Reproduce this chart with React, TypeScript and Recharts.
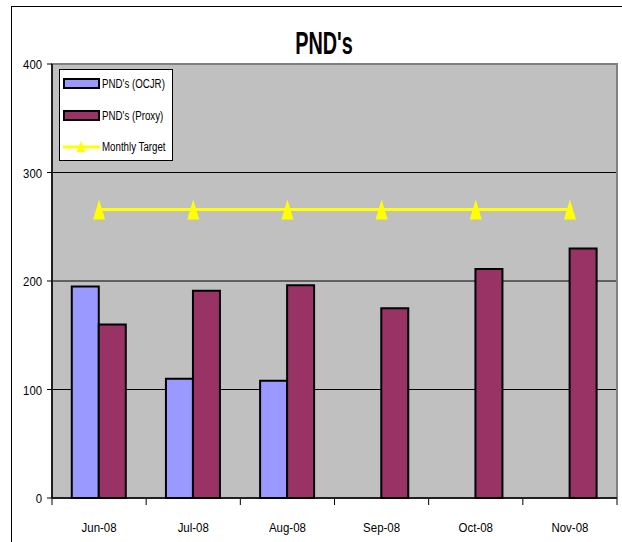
import { Bar, CartesianGrid, ComposedChart, Legend, Line, ReferenceArea, XAxis, YAxis } from "recharts";

const months = ["Jun-08", "Jul-08", "Aug-08", "Sep-08", "Oct-08", "Nov-08"];
const ocjr = [195, 110, 108, null, null, null];
const proxy = [160, 191, 196, 175, 211, 230];
const target = [266, 266, 266, 266, 266, 266];
const yTicks = [0, 100, 200, 300, 400];
const boundaryTicks = [0, 1, 2, 3, 4, 5, 6];

const seriesNames = {
    ocjr: "PND's (OCJR)",
    proxy: "PND's (Proxy)",
    target: "Monthly Target",
};

const FONT = '"Liberation Sans", Arial, sans-serif';

const data = months.map((m, i) => ({
    month: m,
    idx: i + 0.5,
    ocjr: ocjr[i],
    proxy: proxy[i],
    target: target[i],
}));

const Triangle = (props: any) => {
    const { cx, cy } = props;
    if (cx == null || cy == null) return null;
    return <polygon points={`${cx},${cy - 10} ${cx - 6},${cy + 10} ${cx + 6},${cy + 10}`} fill="#FFFF00" />;
};

// narrow-looking tick text (original used a condensed font)
const XTick = (props: any) => {
    const { x, y, payload } = props;
    return (
        <text transform={`translate(${x},${y}) scale(0.85,1)`} textAnchor="middle" dy={10} fontSize={13.5} fontFamily={FONT} fill="#000">
            {payload.value}
        </text>
    );
};

const YTick = (props: any) => {
    const { x, y, payload } = props;
    return (
        <text transform={`translate(${x},${y}) scale(0.84,1)`} textAnchor="end" dy={5} fontSize={13.5} fontFamily={FONT} fill="#000">
            {payload.value}
        </text>
    );
};

const LegendBox = () => {
    const label = (text: string) => (
        <span style={{ position: "absolute", left: 42, top: -8, whiteSpace: "nowrap", transform: "scaleX(0.81)", transformOrigin: "left center", fontFamily: FONT, fontSize: 12, lineHeight: "16px", color: "#000" }}>
            {text}
        </span>
    );
    const swatch = (color: string) => (
        <div style={{ position: "absolute", left: 3, top: -6, width: 33, height: 7, background: color, border: "2px solid #000" }} />
    );
    return (
        <div style={{ position: "relative", background: "#fff", border: "1px solid #000", width: 114, height: 92, boxSizing: "border-box" }}>
            <div style={{ position: "absolute", left: 0, top: 14 }}>{swatch("#9999FF")}{label(seriesNames.ocjr)}</div>
            <div style={{ position: "absolute", left: 0, top: 46 }}>{swatch("#993366")}{label(seriesNames.proxy)}</div>
            <div style={{ position: "absolute", left: 0, top: 77 }}>
                <svg width={40} height={20} style={{ position: "absolute", left: 3, top: -10 }}>
                    <line x1={0} y1={10} x2={37} y2={10} stroke="#FFFF00" strokeWidth={3} />
                    <polygon points="18,4 13.5,15 22.5,15" fill="#FFFF00" />
                </svg>
                {label(seriesNames.target)}
            </div>
        </div>
    );
};

export default function App() {
    return (
        <div style={{ position: "absolute", left: 0, top: 0, width: 622, height: 542, overflow: "hidden", background: "#fff" }}>
            <div style={{ position: "absolute", left: 11, top: 6, width: 700, height: 700, border: "1px solid #000" }} />
            <div style={{ position: "absolute", left: 224, top: 26, width: 200, textAlign: "center", fontFamily: FONT, fontWeight: "bold", fontSize: 31, lineHeight: "36px", color: "#000", transform: "scaleX(0.64)" }}>
                PND's
            </div>
            <div style={{ position: "absolute", left: 0, top: 0 }}>
                <ComposedChart width={622} height={542} data={data} margin={{ top: 64, right: 5, bottom: 42, left: 0 }} barGap={0} barCategoryGap="21%">
                    <CartesianGrid fill="#C0C0C0" stroke="#000" vertical={false} />
                    <ReferenceArea y1={0} y2={400} fill="none" stroke="#808080" strokeWidth={2} ifOverflow="visible" />
                    <XAxis xAxisId="edge" type="number" dataKey="idx" domain={[0, 6]} ticks={boundaryTicks} height={1} axisLine={false} tickLine={{ stroke: "#000" }} tickSize={6} tick={() => <g />} />
                    <XAxis dataKey="month" height={1} axisLine={{ stroke: "#000", strokeWidth: 1.5 }} tickLine={false} tickMargin={18} tick={<XTick />} />
                    <YAxis domain={[0, 400]} ticks={yTicks} width={52} axisLine={{ stroke: "#000", strokeWidth: 1.5 }} tickLine={{ stroke: "#000" }} tickSize={5} tickMargin={5} tick={<YTick />} />
                    <Legend layout="horizontal" verticalAlign="middle" align="center" wrapperStyle={{ left: 59, top: 69, width: 114, height: 92 }} content={() => <LegendBox />} />
                    <Bar dataKey="ocjr" name={seriesNames.ocjr} fill="#9999FF" stroke="#000" strokeWidth={2} isAnimationActive={false} />
                    <Bar dataKey="proxy" name={seriesNames.proxy} fill="#993366" stroke="#000" strokeWidth={2} isAnimationActive={false} />
                    <Line dataKey="target" name={seriesNames.target} stroke="#FFFF00" strokeWidth={3} dot={<Triangle />} activeDot={false} isAnimationActive={false} />
                </ComposedChart>
            </div>
        </div>
    );
}
